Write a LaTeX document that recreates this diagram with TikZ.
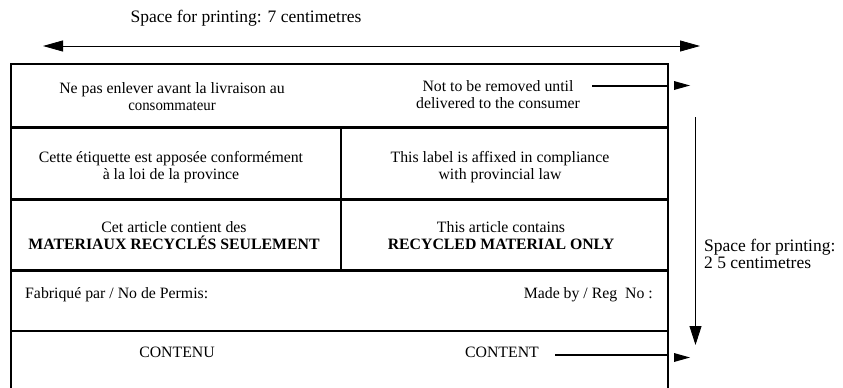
\documentclass[tikz,border=0pt]{standalone}
\usepackage{fontspec}
\usepackage{graphicx}
\setmainfont{Liberation Serif}
\usetikzlibrary{arrows.meta}
\begin{document}
\begin{tikzpicture}[x=1pt,y=-1pt,
  cell/.style={inner sep=0pt, anchor=base, align=center, font=\fontsize{15.8}{17}\selectfont},
  big/.style={inner sep=0pt, font=\fontsize{17.5}{16}\selectfont},
  boxline/.style={line width=2.5pt},
  dimline/.style={line width=0.8pt},
  ptr/.style={line width=2pt},
  smalltip/.style={fill=black},
]
\useasboundingbox (0,0) rectangle (843,388);
% outer box and rows
\draw[boxline] (11,388) -- (11,64) -- (668,64) -- (668,388);
\draw[boxline] (11,127.5) -- (668,127.5);
\draw[boxline] (11,199.5) -- (668,199.5);
\draw[boxline] (11,270.5) -- (668,270.5);
\draw[boxline] (11,331) -- (668,331);
\draw[boxline] (341,127.5) -- (341,270.5);

% top dimension
\node[big, anchor=base] (toptext) at (246,23) {Space for printing: 7 centimetres};
\coordinate (hl) at (43,46);
\coordinate (hr) at (700,46);
\draw[dimline, {Triangle[length=20pt,width=11pt]}-{Triangle[length=20pt,width=11pt]}] (hl) -- (hr);

% right dimension
\coordinate (vt) at (695.5,117);
\coordinate (vb) at (695.5,345);
\draw[dimline, -{Triangle[length=19pt,width=12pt]}] (vt) -- (vb);
\node[big, anchor=base west, align=left, font=\fontsize{17.5}{17}\selectfont] (sidetext) at (704,268) {Space for printing:\\2 5 centimetres};

% row 1
\node[cell] (r1l) at (172,110) {Ne pas enlever avant la livraison au\\\scalebox{0.94}[1]{consommateur}};
\node[cell] (r1r) at (498,108) {Not to be removed until\\delivered to the consumer};
\coordinate (p1a) at (592,86);
\coordinate (p1b) at (668,86);
\draw[ptr] (p1a) -- (p1b);
\fill[smalltip] (674,81) -- (690,85.5) -- (674,90) -- cycle;

% row 2
\node[cell] (r2l) at (171,179) {Cette étiquette est apposée conformément\\à la loi de la province};
\node[cell] (r2r) at (500,179) {This label is affixed in compliance\\with provincial law};

% row 3
\node[cell] (r3l) at (174,249) {Cet article contient des\\\textbf{MATERIAUX RECYCLÉS SEULEMENT}};
\node[cell] (r3r) at (501,249) {This article contains\\\textbf{RECYCLED MATERIAL ONLY}};

% row 4
\node[cell, anchor=base west] (r4l) at (25,298) {Fabriqué par / No de Permis:};
\node[cell, anchor=base east] (r4r) at (653,298) {Made by / Reg\ \ No :};

% row 5
\node[cell] (r5l) at (177,357) {CONTENU};
\node[cell] (r5r) at (502,357) {CONTENT};
\coordinate (p5a) at (555,355);
\coordinate (p5b) at (668,355);
\draw[ptr] (p5a) -- (p5b);
\fill[smalltip] (674,353) -- (690,357.5) -- (674,362) -- cycle;
\end{tikzpicture}
\end{document}
